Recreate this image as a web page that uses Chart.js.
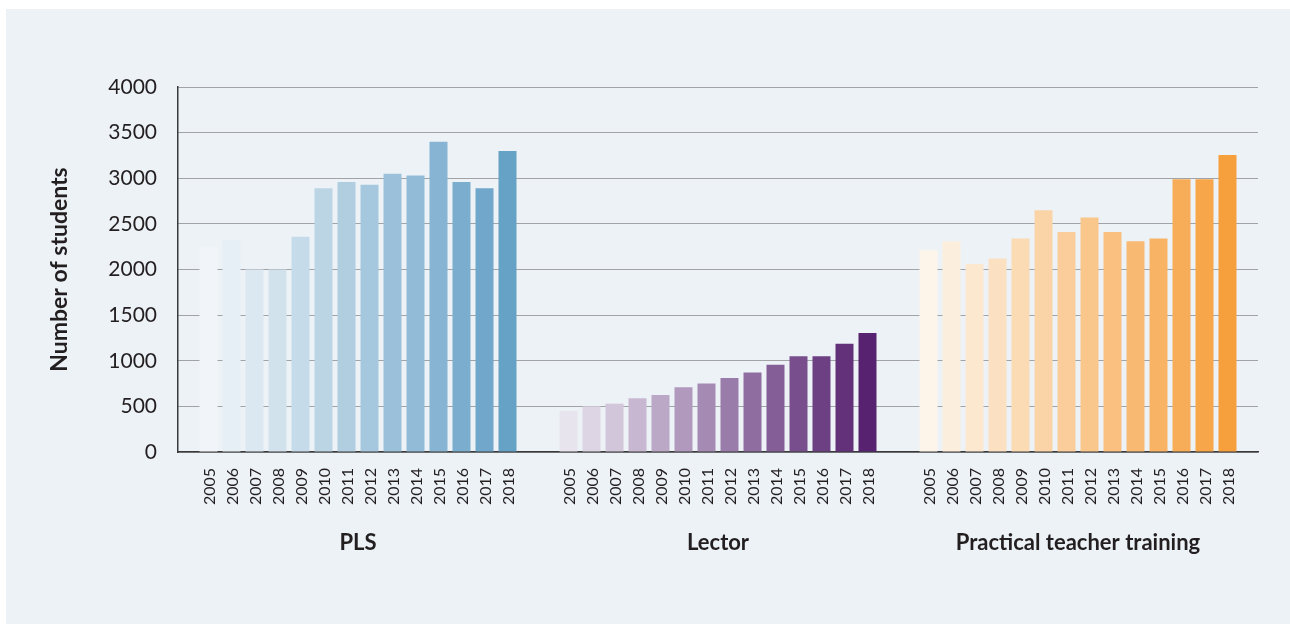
<!DOCTYPE html>
<html>
<head>
<meta charset="utf-8">
<script src="https://cdn.jsdelivr.net/npm/chart.js@4"></script>
<style>
  html, body { margin: 0; padding: 0; background: #ffffff; }
  canvas { display: block; }
</style>
</head>
<body>
<canvas id="c" width="1290" height="624"></canvas>
<script>
// ---- data ----
const groups = ['PLS', 'Lector', 'Practical teacher training'];
const years = ['2005','2006','2007','2008','2009','2010','2011','2012','2013','2014','2015','2016','2017','2018'];
const pls    = [2240, 2320, 2000, 2000, 2360, 2890, 2960, 2930, 3050, 3030, 3400, 2960, 2890, 3300];
const lector = [450, 500, 530, 590, 625, 710, 750, 810, 870, 955, 1050, 1050, 1185, 1305];
const ptt    = [2210, 2310, 2060, 2120, 2340, 2650, 2410, 2570, 2410, 2310, 2340, 2990, 2990, 3255];
const yTicks = [0, 500, 1000, 1500, 2000, 2500, 3000, 3500, 4000];

// ---- styling ----
const FONT = 'Lato, "Open Sans", sans-serif';
const TEXT = '#231F20';
const ramps = [
  [[241,245,249],[102,161,198]],   // blue
  [[232,228,238],[87,34,111]],     // purple
  [[253,245,233],[246,159,61]]     // orange
];
function shade(ramp, i, n) {
  const t = i / (n - 1);
  const [a, b] = ramp;
  const c = a.map((v, k) => Math.round(v + (b[k] - v) * t));
  return `rgb(${c[0]},${c[1]},${c[2]})`;
}
const series = [pls, lector, ptt];
const datasets = years.map((y, i) => ({
  label: y,
  data: series.map(s => s[i]),
  backgroundColor: ramps.map(r => shade(r, i, years.length)),
  borderWidth: 0,
  categoryPercentage: 0.8944,
  barPercentage: 0.7826
}));

const panelPlugin = {
  id: 'panel',
  beforeDraw(chart) {
    const ctx = chart.ctx;
    ctx.save();
    ctx.fillStyle = '#EDF2F7';
    ctx.fillRect(6, 9, chart.width - 6, chart.height - 9);
    ctx.restore();
  }
};

const yearLabels = {
  id: 'yearLabels',
  afterDraw(chart) {
    const ctx = chart.ctx;
    const bottom = chart.chartArea.bottom;
    ctx.save();
    ctx.fillStyle = TEXT;
    ctx.font = '16px ' + FONT;
    ctx.textAlign = 'right';
    ctx.textBaseline = 'middle';
    chart.data.datasets.forEach((ds, di) => {
      const meta = chart.getDatasetMeta(di);
      meta.data.forEach(bar => {
        ctx.save();
        ctx.translate(bar.x + 1, bottom + 16);
        ctx.rotate(-Math.PI / 2);
        ctx.fillText(ds.label, 0, 0);
        ctx.restore();
      });
    });
    ctx.restore();
  }
};

new Chart(document.getElementById('c'), {
  type: 'bar',
  data: { labels: groups, datasets },
  options: {
    responsive: false,
    animation: false,
    events: [],
    layout: { padding: { top: 87, right: 32, left: 0, bottom: 0 } },
    plugins: { legend: { display: false }, tooltip: { enabled: false } },
    scales: {
      x: {
        grid: { display: false, drawTicks: false },
        border: { display: true, color: '#3a3a3a', width: 1.5 },
        ticks: {
          color: TEXT,
          font: { family: FONT, size: 22, weight: 'bold' },
          padding: 78,
          maxRotation: 0
        },
        afterFit(scale) { scale.height = 624 - 452; }
      },
      y: {
        min: 0,
        max: 4000,
        afterBuildTicks(scale) { scale.ticks = yTicks.map(v => ({ value: v })); },
        grid: { color: '#555', lineWidth: 1, drawTicks: false },
        border: { display: true, color: '#3a3a3a', width: 1.5, dash: [1, 1] },
        ticks: {
          color: TEXT,
          font: { family: FONT, size: 21 },
          padding: 21,
          callback: v => String(v)
        },
        title: {
          display: true,
          text: 'Number of students',
          color: TEXT,
          font: { family: FONT, size: 23, weight: 'bold' },
          padding: { top: 46, bottom: 0 }
        },
        afterFit(scale) { scale.width = 178; }
      }
    }
  },
  plugins: [panelPlugin, yearLabels]
});
</script>
</body>
</html>
